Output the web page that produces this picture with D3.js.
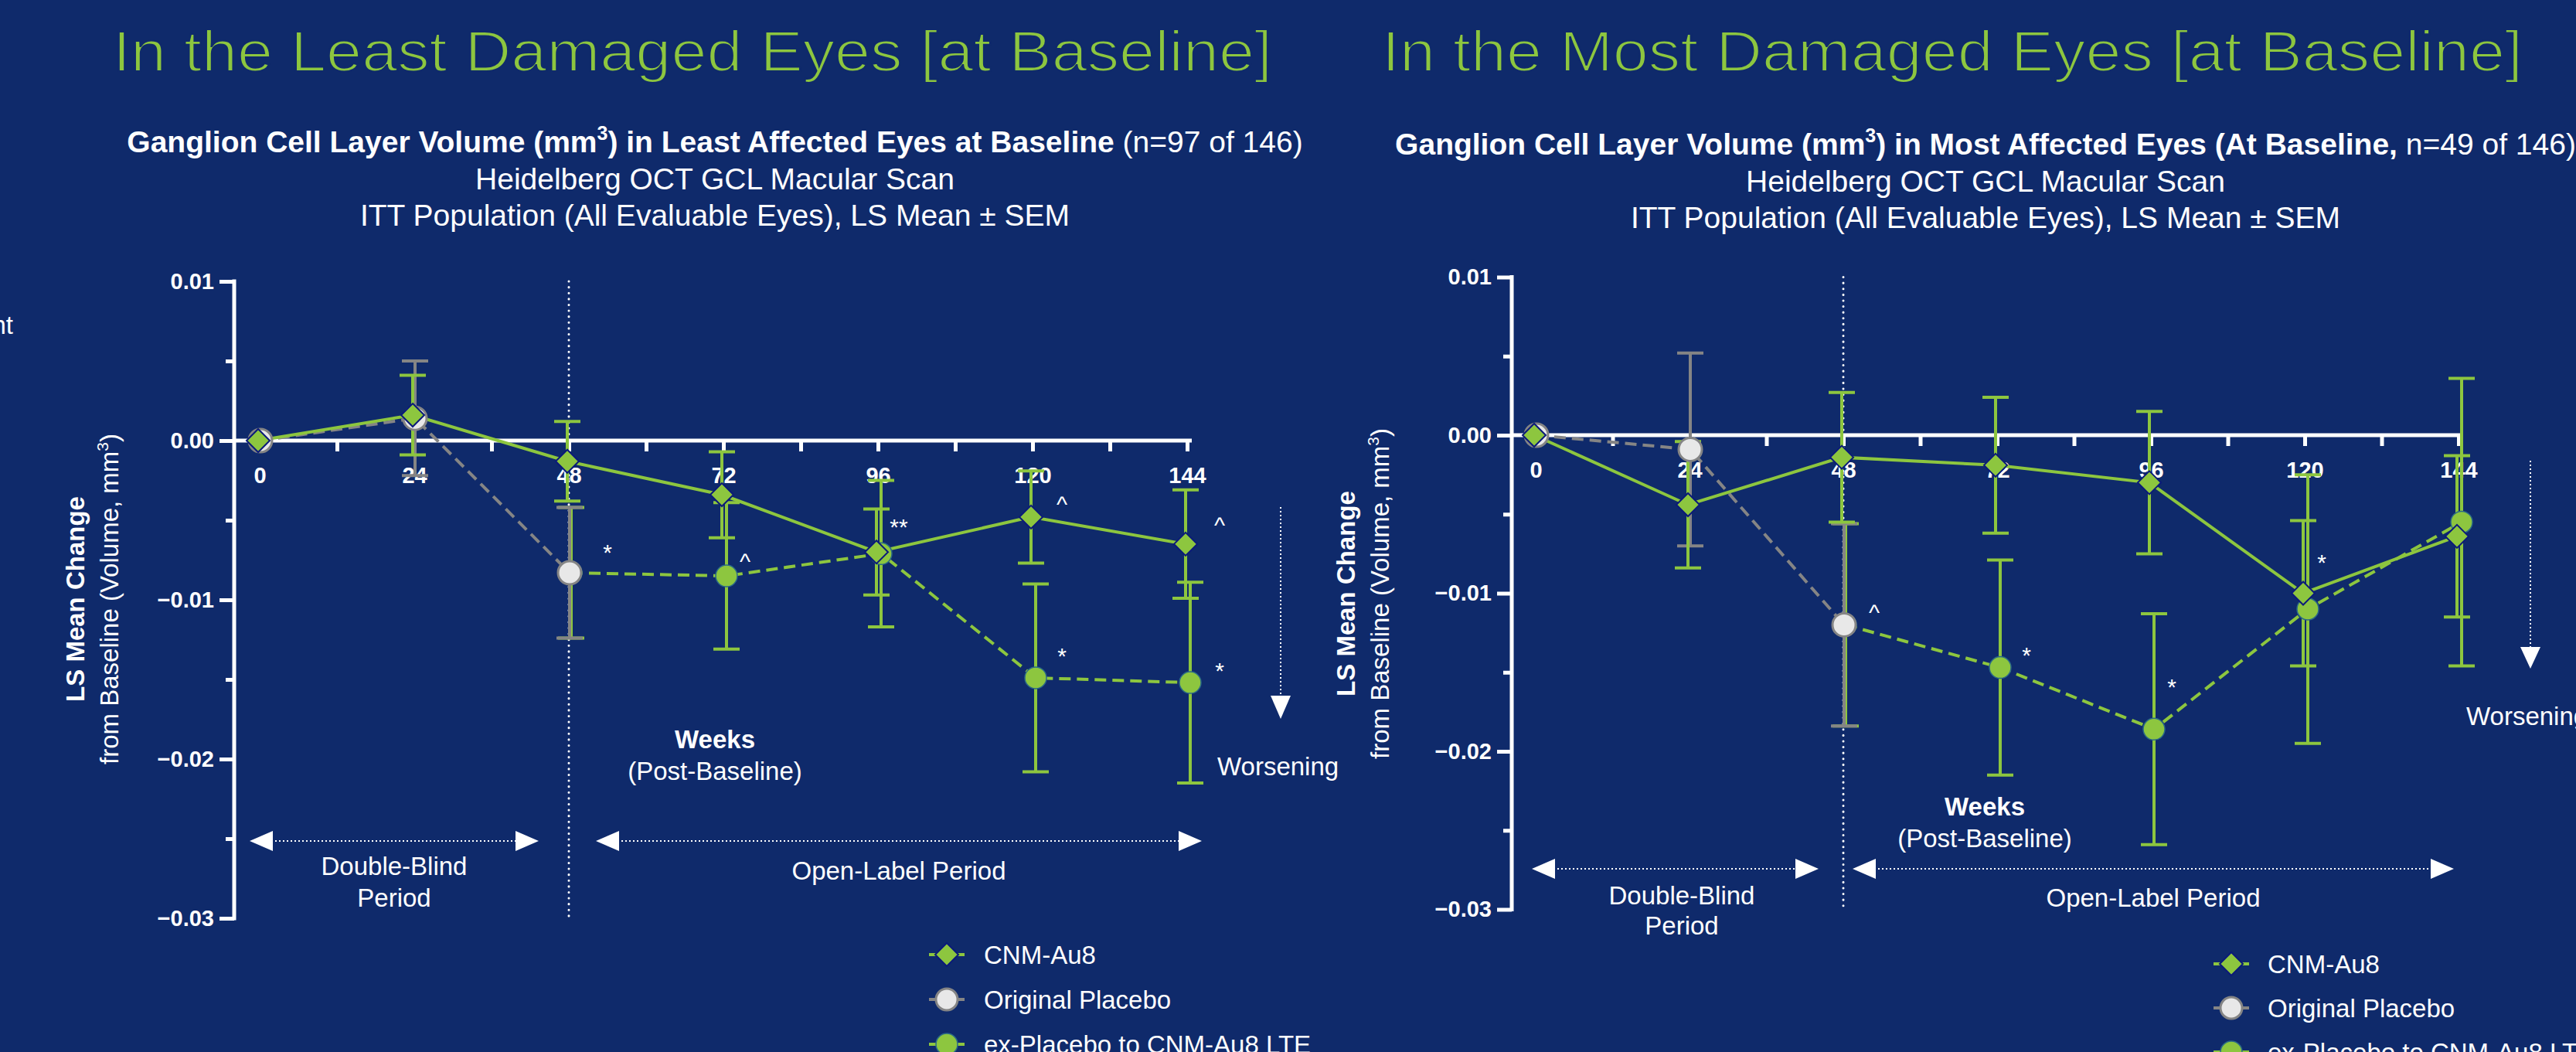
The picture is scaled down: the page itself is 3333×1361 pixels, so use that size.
<!DOCTYPE html>
<html>
<head>
<meta charset="utf-8">
<script src="https://cdn.jsdelivr.net/npm/d3@7"></script>
<style>
  html, body { margin: 0; padding: 0; background: #0f2a6b; }
  svg { display: block; }
  text { font-family: "Liberation Sans", Arial, Helvetica, sans-serif; fill: #ffffff; }
</style>
</head>
<body>
<svg id="chart" width="3333" height="1361"></svg>
<script>
// ---- data ---------------------------------------------------------------
const weeks = [0, 24, 48, 72, 96, 120, 144];
const placeboWeeks = [0, 24, 48];
const lteWeeks = [48, 72, 96, 120, 144];
const xMajorTicks = [0, 24, 48, 72, 96, 120, 144];
const xMinorTicks = [12, 36, 60, 84, 108, 132];
const yMajorTicks = [0.01, 0.00, -0.01, -0.02, -0.03];
const yMinorTicks = [0.005, -0.005, -0.015, -0.025];
const legendLabels = ["CNM-Au8", "Original Placebo", "ex-Placebo to CNM-Au8 LTE"];

// Least affected eyes at baseline (n=97 of 146)
const cnmLeast        = [0, 0.0016, -0.0013, -0.0034, -0.0070, -0.0048, -0.0065];
const cnmLeastSem     = [0, 0.0025, 0.0025, 0.0027, 0.0027, 0.0029, 0.0034];
const placeboLeast    = [0, 0.0014, -0.0083];
const placeboLeastSem = [0, 0.0036, 0.0041];
const lteLeast        = [-0.0083, -0.0085, -0.0071, -0.0149, -0.0152];
const lteLeastSem     = [0.0041, 0.0046, 0.0046, 0.0059, 0.0063];
const marksLeast = [
  [48, -0.0068, "*"], [72, -0.0074, "^"], [96, -0.0052, "**"],
  [120, -0.0038, "^"], [120, -0.0133, "*"], [144, -0.0051, "^"], [144, -0.0142, "*"]
];

// Most affected eyes at baseline (n=49 of 146)
const cnmMost        = [0, -0.0044, -0.0014, -0.0019, -0.0030, -0.0100, -0.0064];
const cnmMostSem     = [0, 0.0040, 0.0041, 0.0043, 0.0045, 0.0046, 0.0051];
const placeboMost    = [0, -0.0009, -0.0120];
const placeboMostSem = [0, 0.0061, 0.0064];
const lteMost        = [-0.0120, -0.0147, -0.0186, -0.0110, -0.0055];
const lteMostSem     = [0.0064, 0.0068, 0.0073, 0.0085, 0.0091];
const marksMost = [
  [48, -0.0110, "^"], [72, -0.0137, "*"], [96, -0.0157, "*"], [120, -0.0078, "*"]
];

// ---- layout & style -----------------------------------------------------
const BG = "#0f2a6b", GREEN = "#8dc63f", GREY = "#858585", PLACEBO_FILL = "#e8e8e8", NAVY = "#0b1a7a";

const panels = [
  {
    heading: "In the Least Damaged Eyes [at Baseline]",
    sub1: ["Ganglion Cell Layer Volume (mm", ") in Least Affected Eyes at Baseline", " (n=97 of 146)"],
    cnm: cnmLeast, cnmSem: cnmLeastSem, pla: placeboLeast, plaSem: placeboLeastSem,
    lte: lteLeast, lteSem: lteLeastSem, marks: marksLeast,
    markDx: { 48: 50, 72: 28, 96: 27, 120: 38, 144: 42 },
    L: { titleX: 896, titleW: 1500, subX: 925, subY: [197, 245, 292], x0: 336, x1: 1536, yTop: 364, yBot: 1188,
         axisX: 303, ylabX: [109, 153], ylabY: 775, arrowY: 1088, db: [323, 697], ol: [771, 1555],
         dbText: [510, 1132, 1173], olText: [1163, 1138], weeks: [925, 968, 1009],
         worse: [1575, 1003], worseArrow: [1657, 656, 900, 930], legend: [1225, 1273, [1235, 1293, 1351]] }
  },
  {
    heading: "In the Most Damaged Eyes [at Baseline]",
    sub1: ["Ganglion Cell Layer Volume (mm", ") in Most Affected Eyes (At Baseline,", " n=49 of 146)"],
    cnm: cnmMost, cnmSem: cnmMostSem, pla: placeboMost, plaSem: placeboMostSem,
    lte: lteMost, lteSem: lteMostSem, marks: marksMost,
    markDx: { 48: 40, 72: 38, 96: 27, 120: 22 },
    L: { titleX: 2526, titleW: 1476, subX: 2569, subY: [200, 248, 295], x0: 1987, x1: 3181, yTop: 358.5, yBot: 1176.5,
         axisX: 1956, ylabX: [1753, 1797], ylabY: 768, arrowY: 1124, db: [1982, 2353], ol: [2397, 3175],
         dbText: [2176, 1170, 1209], olText: [2786, 1173], weeks: [2568, 1055, 1096],
         worse: [3191, 938], worseArrow: [3274, 596, 837, 865], legend: [2887, 2934, [1247, 1304, 1361]] }
  }
];

const svg = d3.select("#chart");
svg.append("rect").attr("width", 3333).attr("height", 1361).attr("fill", BG);

// clipped word fragment at the far left edge
svg.append("text").attr("x", 17).attr("y", 432).attr("text-anchor", "end")
  .attr("font-size", 33).text("nt");

const diamondPath = "M0,-15L15,0L0,15L-15,0Z";

function drawPanel(p) {
  const L = p.L;
  const g = svg.append("g");
  const x = d3.scaleLinear().domain([0, 144]).range([L.x0, L.x1]);
  const y = d3.scaleLinear().domain([-0.03, 0.01]).range([L.yBot, L.yTop]);

  // headings: a light, wide face; a background-coloured outline thins the strokes
  g.append("text").attr("x", L.titleX).attr("y", 92).attr("text-anchor", "middle")
    .attr("font-family", "Lato, 'Open Sans', sans-serif").attr("font-weight", 300)
    .attr("font-size", 75).attr("textLength", L.titleW).attr("lengthAdjust", "spacingAndGlyphs")
    .attr("stroke", BG).attr("stroke-width", 2.2)
    .style("fill", GREEN).text(p.heading);

  const s1 = g.append("text").attr("x", L.subX).attr("y", L.subY[0]).attr("text-anchor", "middle")
    .attr("font-size", 39);
  s1.append("tspan").attr("font-weight", "bold").text(p.sub1[0]);
  s1.append("tspan").attr("font-weight", "bold").attr("font-size", 25).attr("dy", -16).text("3");
  s1.append("tspan").attr("font-weight", "bold").attr("dy", 16).text(p.sub1[1]);
  s1.append("tspan").text(p.sub1[2]);
  g.append("text").attr("x", L.subX).attr("y", L.subY[1]).attr("text-anchor", "middle")
    .attr("font-size", 39).text("Heidelberg OCT GCL Macular Scan");
  g.append("text").attr("x", L.subX).attr("y", L.subY[2]).attr("text-anchor", "middle")
    .attr("font-size", 39).text("ITT Population (All Evaluable Eyes), LS Mean \u00B1 SEM");

  // y axis title
  g.append("text").attr("transform", `translate(${L.ylabX[0]},${L.ylabY}) rotate(-90)`)
    .attr("text-anchor", "middle").attr("font-size", 33).attr("font-weight", "bold").text("LS Mean Change");
  const yl = g.append("text").attr("transform", `translate(${L.ylabX[1]},${L.ylabY}) rotate(-90)`)
    .attr("text-anchor", "middle").attr("font-size", 33);
  yl.append("tspan").text("from Baseline (Volume, mm");
  yl.append("tspan").attr("font-size", 21).attr("dy", -13).text("3");
  yl.append("tspan").attr("dy", 13).text(")");

  // y axis
  const yAxisG = g.append("g").attr("transform", `translate(${L.axisX},0)`);
  yAxisG.call(d3.axisLeft(y).tickValues(yMajorTicks).tickSize(19).tickSizeOuter(0).tickPadding(7)
    .tickFormat(d3.format(".2f")));
  yAxisG.append("g").call(d3.axisLeft(y).tickValues(yMinorTicks).tickSize(11).tickFormat(""))
    .select(".domain").remove();
  yAxisG.selectAll("path, line").attr("stroke", "#fff").attr("stroke-width", 5);
  yAxisG.select(".domain").attr("d", `M0,${y(0.01) - 2.5}V${y(-0.03) + 2.5}`);
  yAxisG.selectAll("text").attr("fill", "#fff").attr("font-size", 29).attr("font-weight", "bold")
    .attr("font-family", "'Liberation Sans', Arial, sans-serif");

  // x axis along zero
  const xAxisG = g.append("g").attr("transform", `translate(0,${y(0)})`);
  xAxisG.call(d3.axisBottom(x).tickValues(xMajorTicks).tickSize(14).tickSizeOuter(0).tickPadding(20)
    .tickFormat(d3.format("d")));
  xAxisG.append("g").call(d3.axisBottom(x).tickValues(xMinorTicks).tickSize(14).tickFormat(""))
    .select(".domain").remove();
  xAxisG.selectAll("path, line").attr("stroke", "#fff").attr("stroke-width", 5);
  xAxisG.select(".domain").attr("d", `M${L.axisX},0H${x(144) + 6}`);
  xAxisG.selectAll("text").attr("fill", "#fff").attr("font-size", 29).attr("font-weight", "bold")
    .attr("font-family", "'Liberation Sans', Arial, sans-serif");

  // week 48 divider
  g.append("line").attr("x1", x(48)).attr("x2", x(48)).attr("y1", y(0.01)).attr("y2", y(-0.03))
    .attr("stroke", "#fff").attr("stroke-width", 3).attr("stroke-dasharray", "0.1,7.5")
    .attr("stroke-linecap", "round");

  // series points
  const cnmPts = weeks.map((w, i) => ({ w, v: p.cnm[i], s: p.cnmSem[i], dx: -2 }));
  const plaPts = placeboWeeks.map((w, i) => ({ w, v: p.pla[i], s: p.plaSem[i], dx: 1 }));
  const ltePts = lteWeeks.map((w, i) => ({ w, v: p.lte[i], s: p.lteSem[i], dx: w === 48 ? 3 : 4 }));
  const line = d3.line().x(d => x(d.w) + d.dx).y(d => y(d.v));

  g.append("path").datum(plaPts).attr("d", line).attr("fill", "none").attr("stroke", GREY)
    .attr("stroke-width", 4).attr("stroke-dasharray", "15,8");
  g.append("path").datum(ltePts).attr("d", line).attr("fill", "none").attr("stroke", GREEN)
    .attr("stroke-width", 4).attr("stroke-dasharray", "15,8");
  g.append("path").datum(cnmPts).attr("d", line).attr("fill", "none").attr("stroke", GREEN)
    .attr("stroke-width", 4);

  function errorBars(pts, color) {
    const eg = g.append("g").attr("stroke", color).attr("stroke-width", 4);
    const sel = eg.selectAll("g").data(pts.filter(d => d.s > 0)).join("g")
      .attr("transform", d => `translate(${x(d.w) + d.dx},0)`);
    sel.append("line").attr("y1", d => y(d.v + d.s)).attr("y2", d => y(d.v - d.s));
    sel.append("line").attr("x1", -17).attr("x2", 17).attr("y1", d => y(d.v + d.s)).attr("y2", d => y(d.v + d.s));
    sel.append("line").attr("x1", -17).attr("x2", 17).attr("y1", d => y(d.v - d.s)).attr("y2", d => y(d.v - d.s));
  }
  errorBars(ltePts, GREEN);
  errorBars(plaPts, GREY);
  errorBars(cnmPts, GREEN);

  g.append("g").selectAll("circle").data(ltePts).join("circle")
    .attr("cx", d => x(d.w) + d.dx).attr("cy", d => y(d.v)).attr("r", 14)
    .attr("fill", GREEN).attr("stroke", "#2b6a86").attr("stroke-width", 1.5);
  g.append("g").selectAll("circle").data(plaPts).join("circle")
    .attr("cx", d => x(d.w) + d.dx).attr("cy", d => y(d.v)).attr("r", 15)
    .attr("fill", PLACEBO_FILL).attr("stroke", GREY).attr("stroke-width", 3);
  g.append("g").selectAll("path").data(cnmPts).join("path")
    .attr("transform", d => `translate(${x(d.w) + d.dx},${y(d.v)})`).attr("d", diamondPath)
    .attr("fill", GREEN).attr("stroke", NAVY).attr("stroke-width", 2);

  // significance marks
  g.append("g").selectAll("text").data(p.marks).join("text")
    .attr("x", d => x(d[0]) + p.markDx[d[0]])
    .attr("y", d => y(d[1]) + 15).attr("text-anchor", "middle")
    .attr("font-size", 30).text(d => d[2]);

  // x axis caption
  g.append("text").attr("x", L.weeks[0]).attr("y", L.weeks[1]).attr("text-anchor", "middle")
    .attr("font-size", 33).attr("font-weight", "bold").text("Weeks");
  g.append("text").attr("x", L.weeks[0]).attr("y", L.weeks[2]).attr("text-anchor", "middle")
    .attr("font-size", 33).text("(Post-Baseline)");

  // period arrows
  function periodArrow(a, b) {
    g.append("line").attr("x1", a + 28).attr("x2", b - 28).attr("y1", L.arrowY).attr("y2", L.arrowY)
      .attr("stroke", "#fff").attr("stroke-width", 2).attr("stroke-dasharray", "2,3");
    g.append("path").attr("d", `M${a},${L.arrowY}L${a + 30},${L.arrowY - 13}L${a + 30},${L.arrowY + 13}Z`)
      .attr("fill", "#fff");
    g.append("path").attr("d", `M${b},${L.arrowY}L${b - 30},${L.arrowY - 13}L${b - 30},${L.arrowY + 13}Z`)
      .attr("fill", "#fff");
  }
  periodArrow(L.db[0], L.db[1]);
  periodArrow(L.ol[0], L.ol[1]);
  g.append("text").attr("x", L.dbText[0]).attr("y", L.dbText[1]).attr("text-anchor", "middle")
    .attr("font-size", 33).text("Double-Blind");
  g.append("text").attr("x", L.dbText[0]).attr("y", L.dbText[2]).attr("text-anchor", "middle")
    .attr("font-size", 33).text("Period");
  g.append("text").attr("x", L.olText[0]).attr("y", L.olText[1]).attr("text-anchor", "middle")
    .attr("font-size", 33).text("Open-Label Period");

  // worsening indicator
  const wa = L.worseArrow;
  g.append("line").attr("x1", wa[0]).attr("x2", wa[0]).attr("y1", wa[1]).attr("y2", wa[2])
    .attr("stroke", "#fff").attr("stroke-width", 2).attr("stroke-dasharray", "2,3");
  g.append("path").attr("d", `M${wa[0] - 13},${wa[2]}L${wa[0] + 13},${wa[2]}L${wa[0]},${wa[3]}Z`)
    .attr("fill", "#fff");
  g.append("text").attr("x", L.worse[0]).attr("y", L.worse[1]).attr("font-size", 33).text("Worsening");

  // legend
  const [lx, tx, rows] = L.legend;
  const leg = g.append("g");
  legendLabels.forEach((lab, i) => {
    const ry = rows[i];
    const col = i === 1 ? GREY : GREEN;
    leg.append("line").attr("x1", lx - 23).attr("x2", lx + 23).attr("y1", ry).attr("y2", ry)
      .attr("stroke", col).attr("stroke-width", 4);
    if (i === 0) {
      leg.append("path").attr("transform", `translate(${lx},${ry})`).attr("d", diamondPath)
        .attr("fill", GREEN).attr("stroke", NAVY).attr("stroke-width", 2);
    } else if (i === 1) {
      leg.append("circle").attr("cx", lx).attr("cy", ry).attr("r", 14)
        .attr("fill", PLACEBO_FILL).attr("stroke", GREY).attr("stroke-width", 3);
    } else {
      leg.append("circle").attr("cx", lx).attr("cy", ry).attr("r", 14)
        .attr("fill", GREEN).attr("stroke", "#2b6a86").attr("stroke-width", 1.5);
    }
    leg.append("text").attr("x", tx).attr("y", ry + 12).attr("font-size", 33).text(lab);
  });
}

panels.forEach(drawPanel);
</script>
</body>
</html>
